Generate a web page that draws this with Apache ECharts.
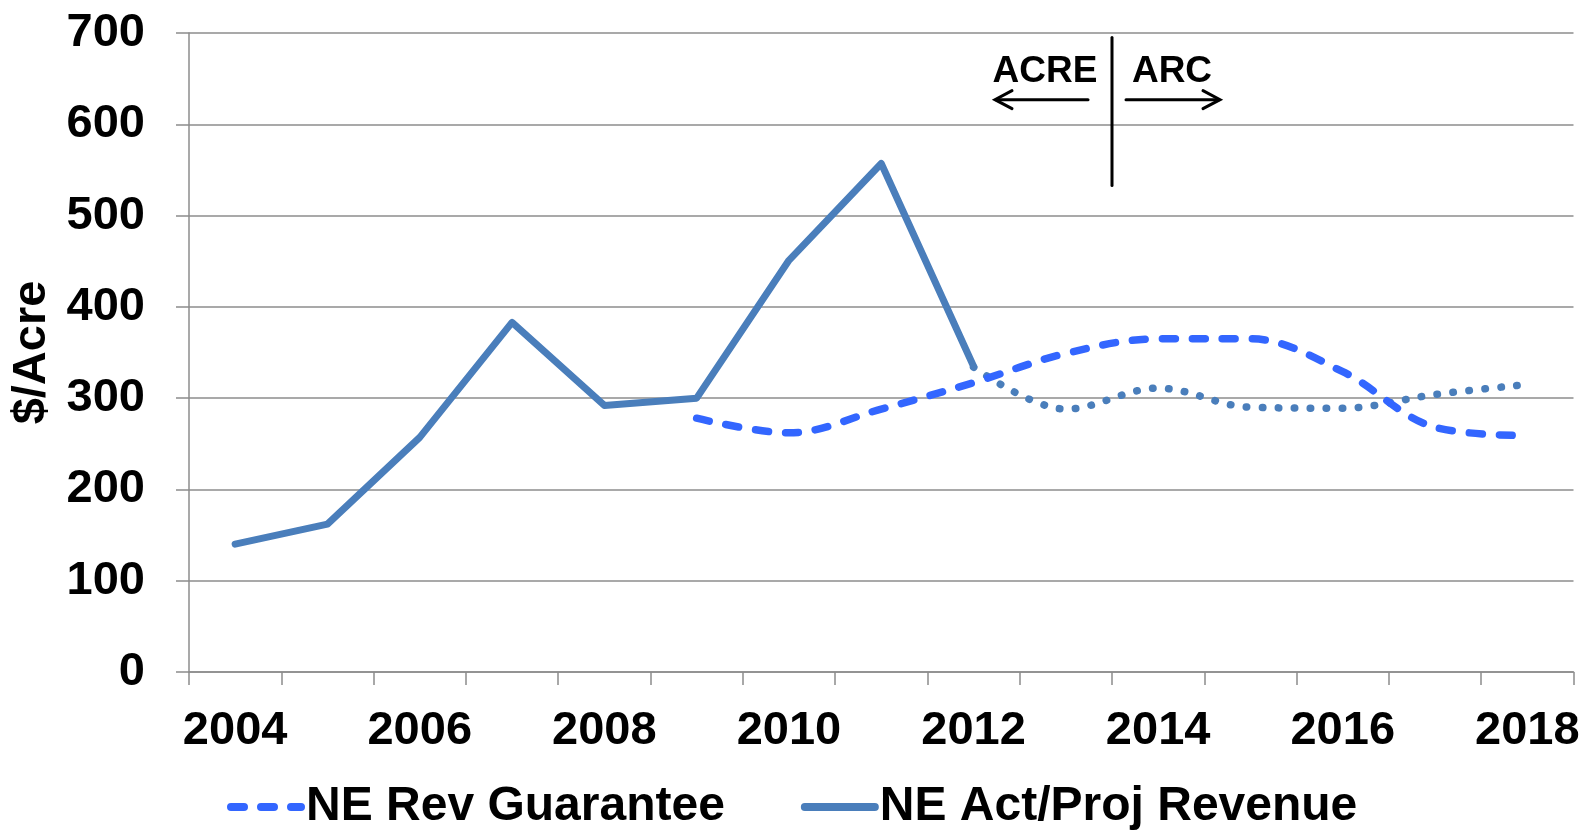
<!DOCTYPE html>
<html>
<head>
<meta charset="utf-8">
<title>NE Revenue per Acre</title>
<script src="https://cdn.jsdelivr.net/npm/echarts@6/dist/echarts.min.js"></script>
<style>
  html, body { margin: 0; padding: 0; background: #fff; }
  #chart { width: 1583px; height: 830px; }
</style>
</head>
<body>
<div id="chart"></div>
<script>
const years = ['2004', '2005', '2006', '2007', '2008', '2009', '2010', '2011', '2012', '2013', '2014', '2015', '2016', '2017', '2018']

// 收入保证 (2009 起)
const revGuarantee = [null, null, null, null, null, 278, 262, 288, 317, 349, 365, 365, 329, 268, 259]
// 实际收入 (到 2012)
const actRevenue = [140, 162, 257, 383, 292, 300, 451, 557, 335, null, null, null, null, null, null]
// 预测收入 (2012 起, 点线)
const projRevenue = [null, null, null, null, null, null, null, null, 334, 288, 311, 290, 289, 304, 315]

const yTicks = { min: 0, max: 700, interval: 100 }

const FONT = '"Liberation Sans", Arial, sans-serif'
const GRID_COLOR = '#8c8c8c'
const DASH_BLUE = '#3366ff'
const SOLID_BLUE = '#4a7ebb'
const DASH = [13, 17]

const chart = echarts.init(document.getElementById('chart'))

const option = {
  animation: false,
  backgroundColor: '#fff',
  textStyle: { fontFamily: FONT },
  grid: {
    left: 189,
    right: 9.5,
    top: 33,
    bottom: 158
  },
  legend: {
    data: [
      { name: 'NE Rev Guarantee', lineStyle: { width: 8, type: DASH, cap: 'round' } },
      { name: 'NE Act/Proj Revenue', lineStyle: { width: 8, cap: 'round' } }
    ],
    left: 227,
    top: 783,
    padding: 0,
    itemWidth: 70,
    itemHeight: 14,
    itemGap: 76,
    itemStyle: { opacity: 0 },
    textStyle: {
      fontFamily: FONT,
      fontSize: 48,
      fontWeight: 'bold',
      color: '#000'
    }
  },
  xAxis: {
    type: 'category',
    data: years,
    boundaryGap: true,
    axisLine: { lineStyle: { color: GRID_COLOR, width: 1.5 } },
    axisTick: { show: true, interval: 0, length: 13, lineStyle: { color: GRID_COLOR, width: 1.5 } },
    axisLabel: {
      interval: 1,
      margin: 36,
      fontFamily: FONT,
      fontSize: 47,
      fontWeight: 'bold',
      color: '#000'
    }
  },
  yAxis: {
    type: 'value',
    min: yTicks.min,
    max: yTicks.max,
    interval: yTicks.interval,
    name: '$/Acre',
    nameLocation: 'middle',
    nameGap: 127,
    nameRotate: 90,
    nameTextStyle: {
      fontFamily: FONT,
      fontSize: 47,
      fontWeight: 'bold',
      color: '#000'
    },
    axisLine: { show: true, lineStyle: { color: GRID_COLOR, width: 1.5 } },
    axisTick: { show: true, length: 13, lineStyle: { color: GRID_COLOR, width: 1.5 } },
    splitLine: { lineStyle: { color: GRID_COLOR, width: 1.5 } },
    axisLabel: {
      margin: 44,
      fontFamily: FONT,
      fontSize: 47,
      fontWeight: 'bold',
      color: '#000'
    }
  },
  series: [
    {
      name: 'NE Rev Guarantee',
      type: 'line',
      data: revGuarantee,
      smooth: 0.35,
      symbol: 'none',
      color: DASH_BLUE,
      lineStyle: { color: DASH_BLUE, width: 7.5, type: DASH, cap: 'round', join: 'round' },
      z: 3
    },
    {
      name: 'NE Act/Proj Revenue',
      type: 'line',
      data: actRevenue,
      smooth: false,
      symbol: 'none',
      color: SOLID_BLUE,
      lineStyle: { color: SOLID_BLUE, width: 7, type: 'solid', cap: 'round', join: 'round' },
      z: 2
    },
    {
      name: 'NE Proj Revenue',
      type: 'line',
      data: projRevenue,
      smooth: 0.35,
      symbol: 'none',
      color: SOLID_BLUE,
      lineStyle: { color: SOLID_BLUE, width: 7.5, type: [0.5, 15.5], cap: 'round' },
      z: 2
    }
  ]
}

chart.setOption(option)

// ACRE / ARC 分界标注, 位置由坐标轴换算
const drawAnnotation = () => {
  const xA = chart.convertToPixel({ xAxisIndex: 0 }, '2013')
  const xB = chart.convertToPixel({ xAxisIndex: 0 }, '2014')
  const x0 = (xA + xB) / 2
  const yPx = v => chart.convertToPixel({ yAxisIndex: 0 }, v)
  const yTop = yPx(695)
  const yBot = yPx(533)
  const yText = yPx(657)
  const yArrow = yPx(627)
  const stroke = { stroke: '#000', lineWidth: 3, lineCap: 'round', lineJoin: 'miter', fill: null }
  const textStyle = { fill: '#000', font: 'bold 37px ' + FONT, align: 'center', verticalAlign: 'middle' }

  chart.setOption({
    graphic: [
      { type: 'line', shape: { x1: x0, y1: yTop, x2: x0, y2: yBot }, style: stroke, z: 10 },
      { type: 'text', x: x0 - 67, y: yText, style: Object.assign({ text: 'ACRE' }, textStyle), z: 10 },
      { type: 'text', x: x0 + 60, y: yText, style: Object.assign({ text: 'ARC' }, textStyle), z: 10 },
      { type: 'line', shape: { x1: x0 - 24, y1: yArrow, x2: x0 - 116, y2: yArrow }, style: stroke, z: 10 },
      {
        type: 'polyline',
        shape: { points: [[x0 - 100, yArrow - 9], [x0 - 117, yArrow], [x0 - 100, yArrow + 9]] },
        style: stroke, z: 10
      },
      { type: 'line', shape: { x1: x0 + 14, y1: yArrow, x2: x0 + 107, y2: yArrow }, style: stroke, z: 10 },
      {
        type: 'polyline',
        shape: { points: [[x0 + 91, yArrow - 9], [x0 + 108, yArrow], [x0 + 91, yArrow + 9]] },
        style: stroke, z: 10
      }
    ]
  })
}

drawAnnotation()
</script>
</body>
</html>
